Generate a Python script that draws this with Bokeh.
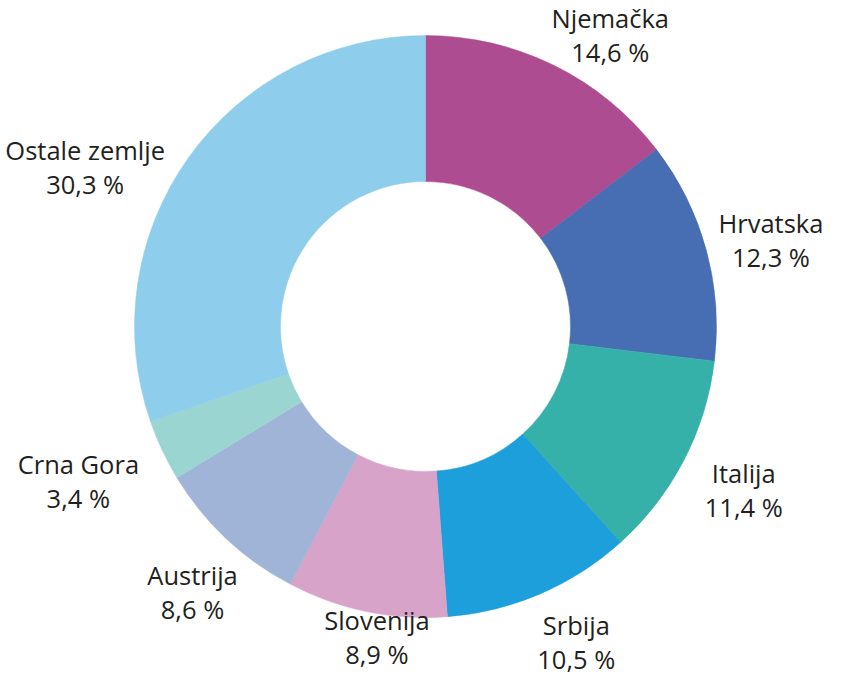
import math
from bokeh.plotting import figure
from bokeh.models import Range1d, ColumnDataSource
from bokeh.core.properties import value
from bokeh.embed import file_html
from bokeh.resources import INLINE

# ---- data ----
countries = ["Njemačka", "Hrvatska", "Italija", "Srbija", "Slovenija",
             "Austrija", "Crna Gora", "Ostale zemlje"]
shares = [14.6, 12.3, 11.4, 10.5, 8.9, 8.6, 3.4, 30.3]
colors = ["#AE4C91", "#476EB3", "#35B1AA", "#1C9FDA", "#D7A3C8",
          "#A0B4D7", "#9BD5D1", "#8ECEEC"]

# ---- layout ----
W, H = 825, 678
CX, CY = 425, 352          # donut centre (data units = px)
R_OUT, R_IN = 291, 145
# label anchor: (radius, angle tweak in degrees) per slice
label_r = [345, 356, 358, 350, 314, 353, 380, 376]
label_da = [-6.1, -1.3, 0.1, 2.3, 2.8, 1.9, -1.2, 10.3]
LINE_GAP = 34
FONT = "Open Sans"
FSIZE = "25.5px"
TXT = "#231F20"

total = sum(shares)
starts, ends, mids = [], [], []
acc = 0.0
for s in shares:
    a0 = math.pi / 2 - 2 * math.pi * acc / total
    a1 = math.pi / 2 - 2 * math.pi * (acc + s) / total
    starts.append(a1)
    ends.append(a0)
    mids.append((a0 + a1) / 2)
    acc += s

src = ColumnDataSource(dict(start=starts, end=ends, color=colors))

p = figure(width=W, height=H, output_backend="svg", toolbar_location=None,
           x_range=Range1d(0, W), y_range=Range1d(0, H), min_border=0)
p.axis.visible = False
p.grid.visible = False
p.outline_line_color = None
p.background_fill_color = "white"

p.annular_wedge(x=CX, y=CY, inner_radius=R_IN, outer_radius=R_OUT,
                start_angle="start", end_angle="end", fill_color="color",
                line_color="color", line_width=0.5, source=src)

lx, ly = [], []
for m, r, da in zip(mids, label_r, label_da):
    a = m + math.radians(da)
    lx.append(CX + r * math.cos(a))
    ly.append(CY + r * math.sin(a))

names = ColumnDataSource(dict(x=lx, y=[y + LINE_GAP / 2 for y in ly], t=countries))
vals = ColumnDataSource(dict(x=lx, y=[y - LINE_GAP / 2 for y in ly],
                             t=[f"{v:.1f}".replace(".", ",") + " %" for v in shares]))
for s in (names, vals):
    p.text(x="x", y="y", text="t", source=s, text_font=value(FONT),
           text_font_size=FSIZE, text_color=TXT, text_align="center",
           text_baseline="middle")

open("out.html", "w").write(file_html(p, INLINE))
